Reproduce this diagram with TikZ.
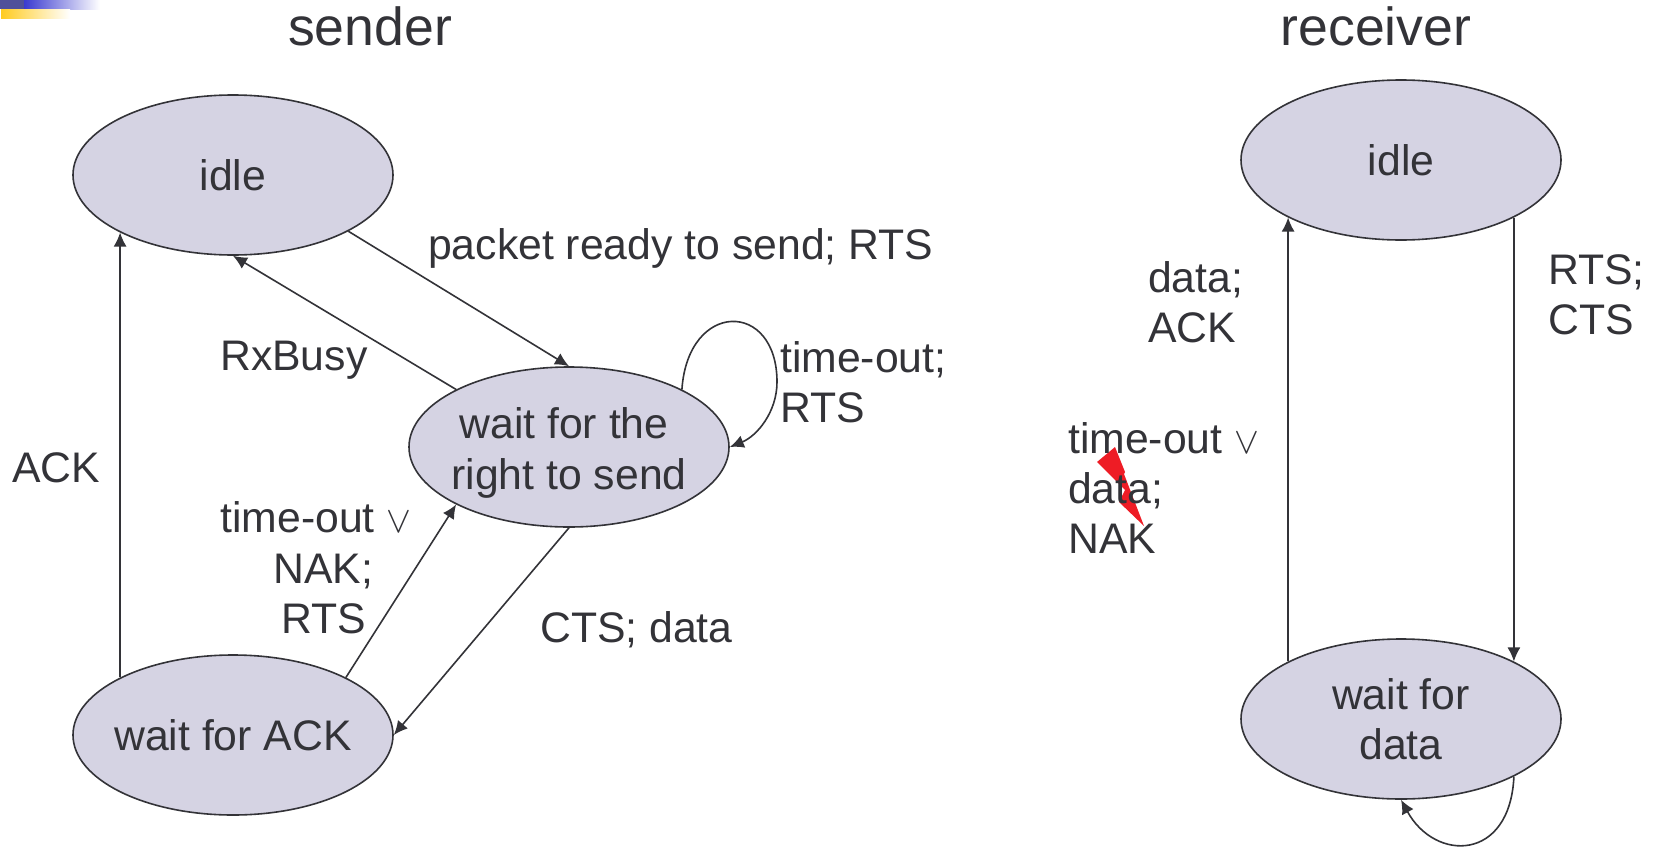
\documentclass[tikz,border=0pt]{standalone}
\usepackage{fontspec}
\setmainfont{Liberation Sans}
\usetikzlibrary{shapes.geometric, arrows.meta}
\tikzset{>={Latex[length=14bp, width=13bp]}}
\definecolor{ink}{HTML}{333338}
\definecolor{statefill}{HTML}{D5D3E3}
\definecolor{bardark}{HTML}{50509A}
\definecolor{barblue}{HTML}{3A3AD0}
\definecolor{baryellow}{HTML}{FFCB20}
\definecolor{boltred}{HTML}{EE1C25}
\newcommand*{\lblfont}{\fontsize{42.9}{50.5}\selectfont}
\newcommand*{\orsign}{\scalebox{1.5}{\fontsize{24}{24}\selectfont$\vee$}}
\tikzset{
    state/.style={draw=ink, fill=statefill, ellipse, line width=1.6bp, inner xsep=-40bp, inner ysep=0pt, minimum width=320bp, minimum height=160bp, text=ink, align=center, font=\lblfont},
    lbl/.style={inner sep=0pt, text=ink, align=left, font=\lblfont},
    ttl/.style={inner sep=0pt, text=ink, font=\fontsize{53.8}{60}\selectfont},
    link/.style={draw=ink, line width=1.6bp, ->}
}
\begin{document}
\begin{tikzpicture}[x=1bp, y=-1bp]
    \useasboundingbox(0, 0)rectangle(1659, 849);
    \fill[fill=white](0, 0)rectangle(1659, 849);
    % corner bars
    \fill[left color=barblue, right color=white, draw=none](24, 0)rectangle(100, 9);
    \fill[fill=bardark](0, 0)rectangle(24, 9);
    \fill[left color=baryellow, right color=white, draw=none](1, 9)rectangle(70, 18);
    % titles
    \node[ttl](senderttl)at(370, 26){sender};
    \node[ttl](receiverttl)at(1376, 26){receiver};
    % sender
    \node[state](sidle)at(233, 175){idle};
    \node[state](swait)at(569, 447){\rule{0pt}{43bp}wait for the\hspace*{10bp}\\right to send};
    \node[state](sack)at(233, 735){wait for ACK};
    \draw[link](sidle.-26)--(swait.north);
    \draw[link](swait.153)--(sidle.south);
    \draw[link](sack.153)--(sidle.207);
    \draw[link](sack.27)--(swait.207);
    \draw[link](swait.south)--(sack.east);
    \draw[link](swait.27).. controls (688, 300) and (777, 300) ..(777, 382).. controls (777, 412) and (757, 436) ..(swait.east);
    \node[lbl, anchor=west](lready)at(428, 248){packet ready to send; RTS};
    \node[lbl, anchor=west](lbusy)at(220, 360){RxBusy};
    \node[lbl, anchor=west](lretry)at(780, 382){time-out;\\RTS};
    \node[lbl, anchor=west](lack)at(12, 468){ACK};
    \node[lbl, align=center](lnak)at(323.5, 568){time-out \orsign\hspace*{15bp}\\NAK;\\RTS};
    \node[lbl, anchor=west](lcts)at(540, 630){CTS; data};
    % receiver
    \node[state](ridle)at(1401, 160){idle};
    \node[state](rwait)at(1401, 719){wait for\\data};
    \draw[link](ridle.-27)--(rwait.27);
    \draw[link](rwait.153)--(ridle.207);
    \draw[link](rwait.-27).. controls (1510, 862) and (1435, 862) ..(rwait.south);
    \node[lbl, anchor=west](lrts)at(1548, 295){RTS;\\CTS};
    \node[lbl, anchor=west](ldata)at(1148, 302){data;\\ACK};
    % collision mark
    \fill[fill=boltred](1097, 462)--(1115, 447)--(1125, 472)--(1124, 474)--(1144, 526)--(1119, 502)--(1125, 490)--cycle;
    \node[lbl, anchor=west](lfail)at(1068, 488){time-out \orsign\\data;\\NAK};
\end{tikzpicture}
\end{document}
